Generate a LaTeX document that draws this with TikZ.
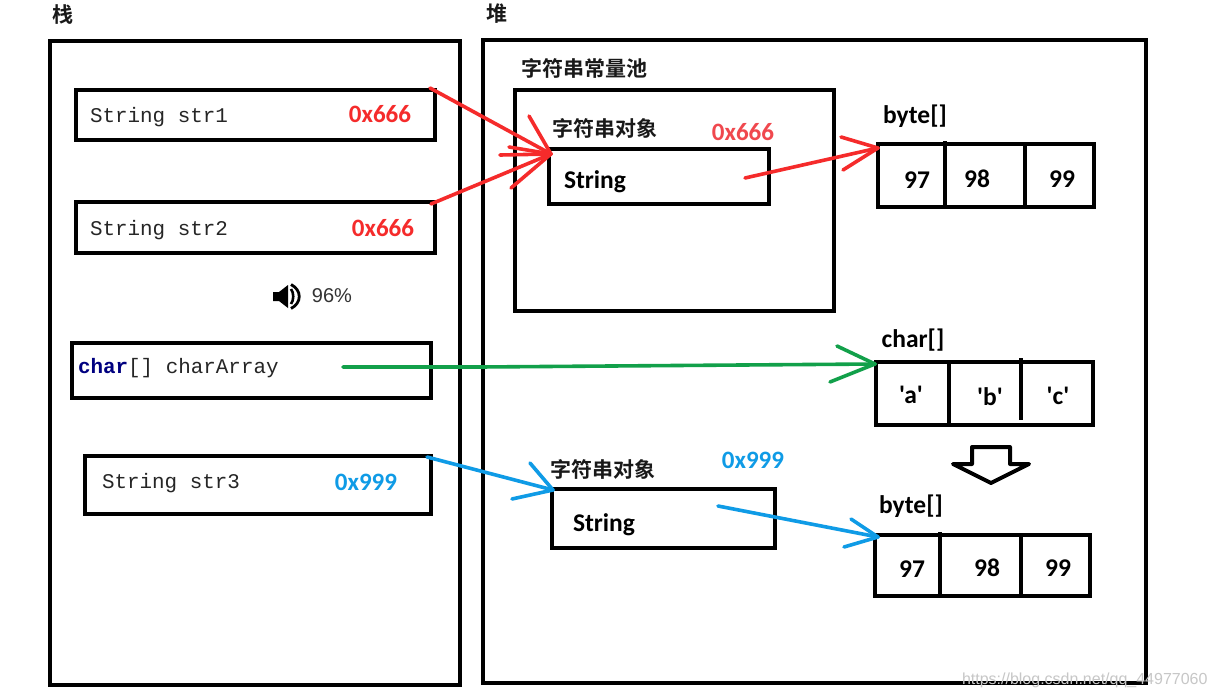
\documentclass[tikz,border=0pt]{standalone}
\usepackage{fontspec}
\setmonofont{Liberation Mono}
\newfontfamily\latinfont{Carlito}[BoldFont={Carlito Bold}]
\newfontfamily\cjkfont{Noto Sans CJK SC}[BoldFont={Noto Sans CJK SC Bold}]
\newfontfamily\plainsans{Liberation Sans}
\definecolor{redink}{HTML}{F52B2B}
\definecolor{palered}{HTML}{F0484E}
\definecolor{blueink}{HTML}{0F9BE6}
\definecolor{greenink}{HTML}{12A04A}
\definecolor{navyword}{HTML}{000080}
\tikzset{
  x=1pt, y=-1pt,
  frame/.style={draw=black, line width=4pt, fill=none, rectangle, inner sep=0pt, outer sep=0pt},
  divider/.style={draw=black, line width=4pt},
  lbl/.style={inner sep=0pt, outer sep=0pt, text=black},
  code/.style={lbl, anchor=west, font=\ttfamily\fontsize{20.9}{24}\selectfont, text=black!85},
  head/.style={lbl, font=\cjkfont\bfseries\fontsize{21}{24}\selectfont, text=black!90},
  latin/.style={lbl, font=\latinfont\bfseries\fontsize{25.5}{30}\selectfont},
  addrred/.style={lbl, font=\latinfont\bfseries\fontsize{25}{30}\selectfont, text=redink},
  addrblue/.style={lbl, font=\latinfont\bfseries\fontsize{25}{30}\selectfont, text=blueink},
  ink/.style={line width=3.6pt, line cap=round, line join=round},
  inkred/.style={ink, draw=redink},
  inkgreen/.style={ink, draw=greenink},
  inkblue/.style={ink, draw=blueink},
}
\begin{document}
\begin{tikzpicture}
\useasboundingbox (0,0) rectangle (1216,699);
\fill[white] (0,0) rectangle (1216,699);

% stack and heap regions
\node[frame, minimum width=410pt, minimum height=644pt] (stack) at (254.5,363) {};
\node[frame, minimum width=663pt, minimum height=643pt] (heap) at (814.5,361.5) {};
\node[head] (stacklabel) at (63,15) {栈};
\node[head] (heaplabel) at (497,14) {堆};

% stack variables
\node[frame, minimum width=359pt, minimum height=50pt] (str1) at (255.5,115) {};
\node[frame, minimum width=359pt, minimum height=51pt] (str2) at (255.5,227.5) {};
\node[frame, minimum width=359pt, minimum height=55pt] (chararr) at (251.5,370.5) {};
\node[frame, minimum width=346pt, minimum height=58pt] (str3) at (258,484.5) {};
\node[code] (str1text) at (90,117) {String str1};
\node[code] (str2text) at (90,230) {String str2};
\node[code] (chartext) at (78,368) {\textcolor{navyword}{\bfseries char}[] charArray};
\node[code] (str3text) at (102,483) {String str3};
\node[addrred] (addr1) at (380,114) {0x666};
\node[addrred] (addr2) at (383,228) {0x666};
\node[addrblue] (addr3) at (366,482) {0x999};

% volume indicator
\fill[black] (273,292) -- (279,292) -- (288,285) -- (288,308) -- (279,301) -- (273,301) -- cycle;
\draw[black, line width=2.6pt] (291,289) .. controls (294,293) and (294,300) .. (291,304);
\draw[black, line width=2.8pt] (291,284.5) .. controls (302,290) and (302,303) .. (291,308.5);
\node[lbl, font=\plainsans\fontsize{20}{24}\selectfont, text=black!80] (volume) at (332,296) {96\%};

% string constant pool
\node[head] (pooltitle) at (584,68) {字符串常量池};
\node[frame, minimum width=319pt, minimum height=221pt] (pool) at (674.5,200.5) {};
\node[head] (obj1title) at (605,128) {字符串对象};
\node[frame, minimum width=220pt, minimum height=55pt] (obj1) at (659,176.5) {};
\node[latin] (obj1text) at (595,182) {String};
\node[addrred, text=palered, font=\latinfont\bfseries\fontsize{25}{28}\selectfont] (addr4) at (743,132) {0x666};

% byte array of the pooled string
\node[latin] (bytes1title) at (915,116) {byte[]};
\node[frame, minimum width=216pt, minimum height=63pt] (bytes1) at (986,175.5) {};
\coordinate (b1a) at (945,141);
\coordinate (b1b) at (945,207);
\coordinate (b1c) at (1025,144);
\coordinate (b1d) at (1025,207);
\draw[divider] (b1a) -- (b1b);
\draw[divider] (b1c) -- (b1d);
\node[latin] (v197) at (917,180) {97};
\node[latin] (v198) at (977,179) {98};
\node[latin] (v199) at (1062,179) {99};

% char array
\node[latin] (charstitle) at (913,340) {char[]};
\node[frame, minimum width=217pt, minimum height=63pt] (chars) at (984.5,393.5) {};
\coordinate (c1a) at (949,362);
\coordinate (c1b) at (949,425);
\coordinate (c1c) at (1021,358);
\coordinate (c1d) at (1021,420);
\draw[divider] (c1a) -- (c1b);
\draw[divider] (c1c) -- (c1d);
\node[latin] (cha) at (911,395) {'a'};
\node[latin] (chb) at (990,397) {'b'};
\node[latin] (chc) at (1058,396) {'c'};

% hollow arrow from char array to byte array
\draw[black, line width=4pt, line join=round] (972,464) -- (972,447) -- (1010,447) -- (1010,464) -- (1029,464) -- (991,483) -- (953,464) -- cycle;

% heap string object and its byte array
\node[head] (obj2title) at (603,469) {字符串对象};
\node[addrblue] (addr5) at (753,460) {0x999};
\node[frame, minimum width=223pt, minimum height=59pt] (obj2) at (663.5,518.5) {};
\node[latin] (obj2text) at (604,525) {String};
\node[latin] (bytes2title) at (911,506) {byte[]};
\node[frame, minimum width=215pt, minimum height=61pt] (bytes2) at (982.5,565.5) {};
\coordinate (b2a) at (940,532);
\coordinate (b2b) at (940,596);
\coordinate (b2c) at (1021,535);
\coordinate (b2d) at (1021,596);
\draw[divider] (b2a) -- (b2b);
\draw[divider] (b2c) -- (b2d);
\node[latin] (v297) at (912,569) {97};
\node[latin] (v298) at (987,568) {98};
\node[latin] (v299) at (1058,568) {99};

% reference arrows, with hand-drawn heads
\coordinate (from1) at (430,88);
\coordinate (from2) at (431,204);
\coordinate (tipobj1) at (551,154);
\draw[inkred] (from1) -- (tipobj1);
\draw[inkred] (from2) -- (tipobj1);
\draw[inkred] (tipobj1) -- ++(-22,-38);
\draw[inkred] (tipobj1) -- ++(-42,-7);
\draw[inkred] (tipobj1) -- ++(-51,1);
\draw[inkred] (tipobj1) -- ++(-40,34);

\coordinate (fromobj1) at (745,178);
\coordinate (tipbytes1) at (878,148);
\draw[inkred] (fromobj1) -- (tipbytes1);
\draw[inkred] (tipbytes1) -- ++(-37,-11);
\draw[inkred] (tipbytes1) -- ++(-35,22);

\coordinate (fromchar) at (343,367);
\coordinate (bendchar) at (480,367);
\coordinate (bendchar2) at (742,365);
\coordinate (tipchars) at (875,364);
\draw[inkgreen] (fromchar) -- (bendchar) -- (bendchar2) -- (tipchars);
\draw[inkgreen] (tipchars) -- ++(-38,-18);
\draw[inkgreen] (tipchars) -- ++(-45,18);

\coordinate (from3) at (427,457);
\coordinate (tipobj2) at (553,490);
\draw[inkblue] (from3) -- (tipobj2);
\draw[inkblue] (tipobj2) -- ++(-23,-27);
\draw[inkblue] (tipobj2) -- ++(-41,9);

\coordinate (fromobj2) at (718,506);
\coordinate (tipbytes2) at (878,537);
\draw[inkblue] (fromobj2) -- (tipbytes2);
\draw[inkblue] (tipbytes2) -- ++(-27,-18);
\draw[inkblue] (tipbytes2) -- ++(-34,10);

% site address printed over the corner
\node[lbl, font=\plainsans\fontsize{16}{20}\selectfont, text=black!22, anchor=west] (mark) at (962,680) {https://blog.csdn.net/qq\_44977060};
\end{tikzpicture}
\end{document}
